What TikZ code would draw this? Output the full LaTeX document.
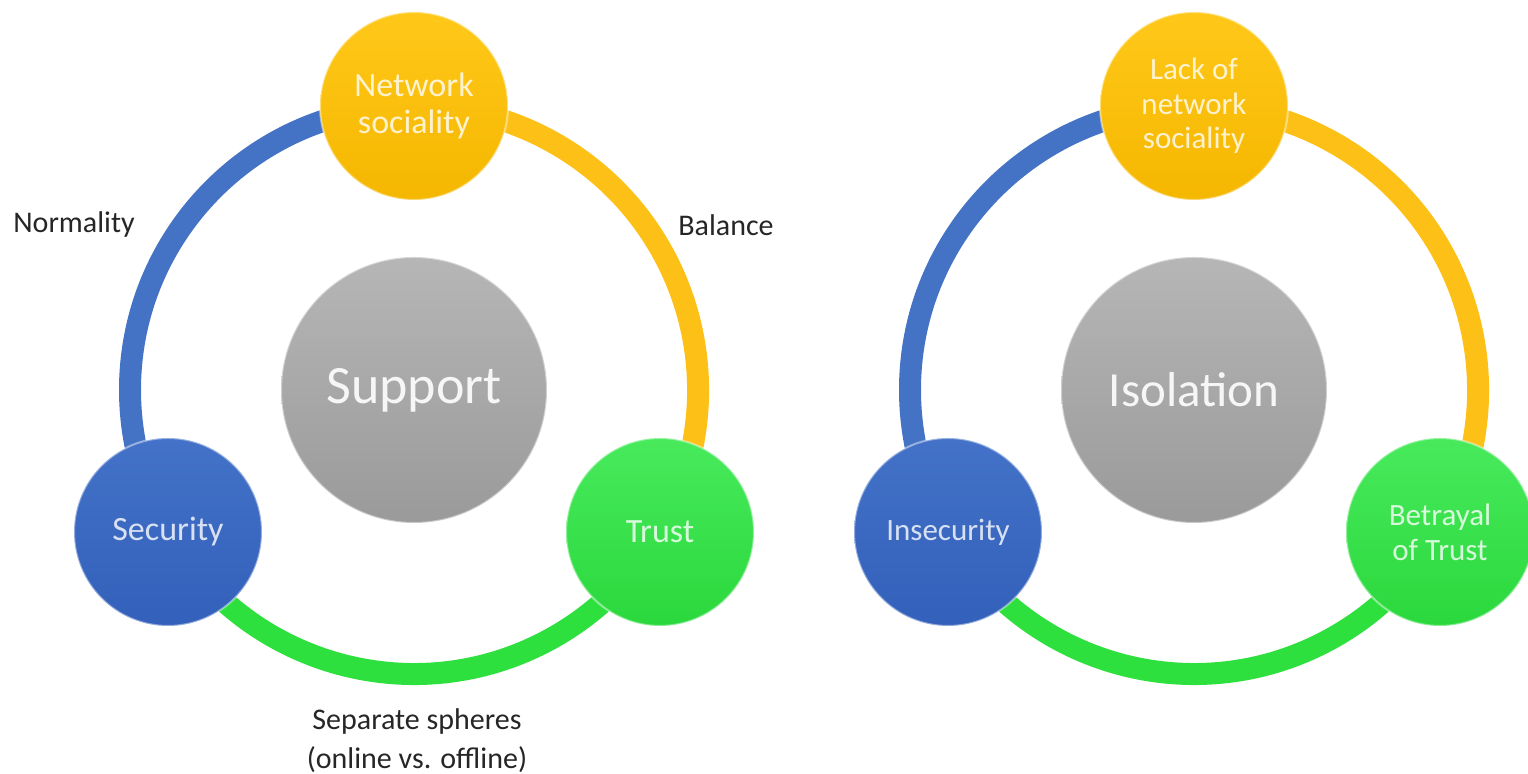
\documentclass[tikz,border=0pt]{standalone}
\usepackage{fontspec}
\setmainfont{Carlito}
\usetikzlibrary{backgrounds}

\definecolor{blueball}{HTML}{4372C8}
\definecolor{bluedeep}{HTML}{3360BA}
\definecolor{yellowball}{HTML}{FFC819}
\definecolor{yellowdeep}{HTML}{F5B700}
\definecolor{greenball}{HTML}{48EA5C}
\definecolor{greendeep}{HTML}{2AD83C}
\definecolor{hubtop}{HTML}{B6B6B6}
\definecolor{hubbot}{HTML}{9A9A9A}
\definecolor{ringblue}{HTML}{4472C4}
\definecolor{ringyellow}{HTML}{FCC016}
\definecolor{ringgreen}{HTML}{2DE03E}
\definecolor{notegray}{HTML}{262626}

\begin{document}
\begin{tikzpicture}[x=0.5pt, y=0.5pt,
		ball/.style = {circle, minimum size=94pt, inner sep=0pt, align=center,
			draw=white, draw opacity=.45, line width=1pt, text=white, text opacity=.8},
		sec/.style = {ball, top color=blueball, bottom color=bluedeep},
		soc/.style = {ball, top color=yellowball, bottom color=yellowdeep},
		tru/.style = {ball, top color=greenball, bottom color=greendeep},
		hub/.style = {ball, minimum size=133pt, top color=hubtop, bottom color=hubbot, text opacity=.9},
		ring/.style = {line width=11pt},
		note/.style = {text=notegray, font=\fontsize{15}{19.5}\selectfont, align=center}]
	\useasboundingbox (0,0) rectangle (1528,774);

	% left cycle
	\coordinate (cL) at (414,384);
	\node[soc, font=\fontsize{17}{18.5}\selectfont] (socL) at (414,668) {Network\\sociality};
	\node[sec, font=\fontsize{17}{20}\selectfont] (secL) at (168,242) {Security};
	\node[tru, font=\fontsize{17}{20}\selectfont] (truL) at (660,242) {Trust};
	\node[hub, font=\fontsize{27}{30}\selectfont] (hubL) at (cL) {Support};

	% right cycle
	\coordinate (cR) at (1194,384);
	\node[soc, font=\fontsize{15.5}{17.2}\selectfont] (socR) at (1194,668) {Lack of\\network\\sociality};
	\node[sec, font=\fontsize{15.5}{18}\selectfont] (secR) at (948,242) {Insecurity};
	\node[tru, font=\fontsize{15.5}{17.5}\selectfont] (truR) at (1440,242) {Betrayal\\of Trust};
	\node[hub, font=\fontsize{24.5}{28}\selectfont] (hubR) at (cR) {Isolation};

	% ring arcs behind the balls
	\begin{scope}[on background layer]
		\draw[ring, ringblue] (socL.center) arc[start angle=90, end angle=210, radius=142pt];
		\draw[ring, ringgreen] (secL.center) arc[start angle=210, end angle=330, radius=142pt];
		\draw[ring, ringyellow] (truL.center) arc[start angle=-30, end angle=90, radius=142pt];
		\draw[ring, ringblue] (socR.center) arc[start angle=90, end angle=210, radius=142pt];
		\draw[ring, ringgreen] (secR.center) arc[start angle=210, end angle=330, radius=142pt];
		\draw[ring, ringyellow] (truR.center) arc[start angle=-30, end angle=90, radius=142pt];
	\end{scope}

	% labels
	\node[note] (norm) at (74,549) {Normality};
	\node[note] (bal) at (726,549) {Balance};
	\node[note] (sep) at (417,33) {Separate spheres\\(online vs. offline)};
\end{tikzpicture}
\end{document}
